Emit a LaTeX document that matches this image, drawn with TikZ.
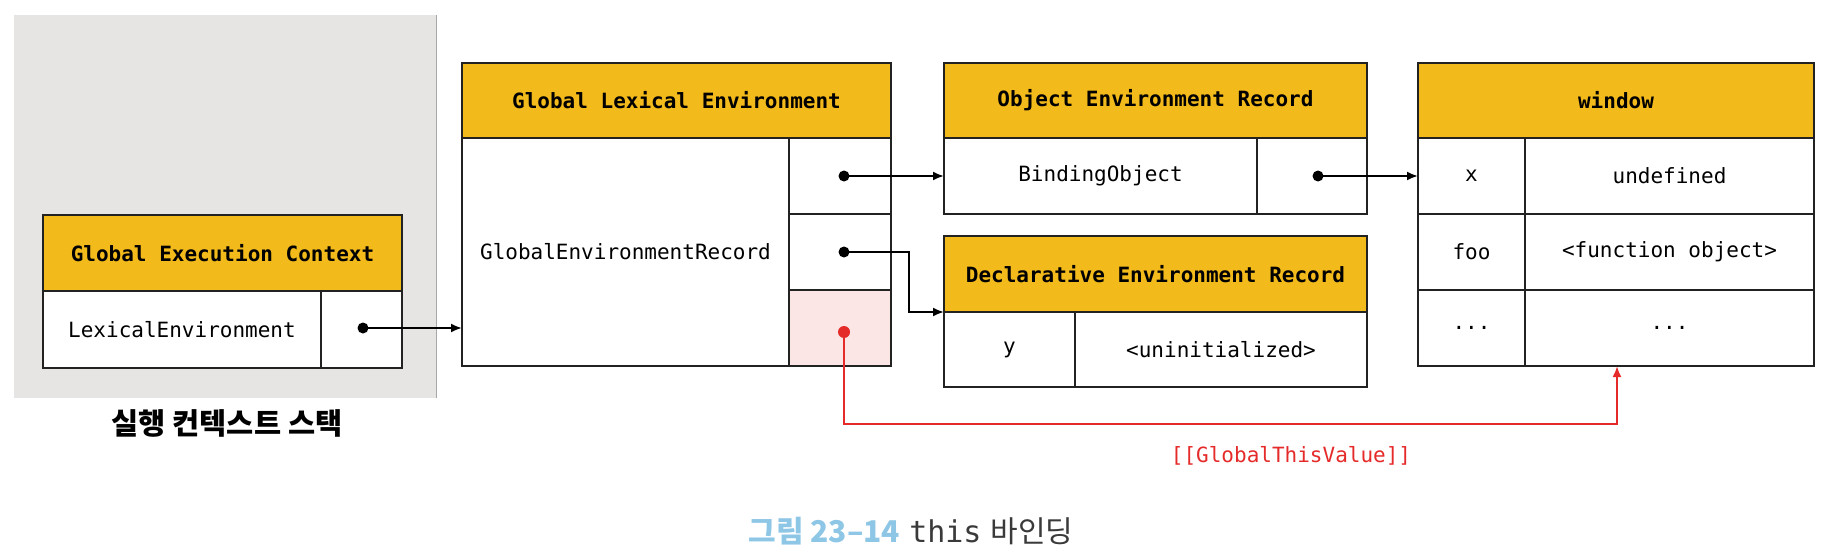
\documentclass[tikz,border=0pt]{standalone}
\usepackage{fontspec}
\setmonofont{DejaVu Sans Mono}
\newfontfamily\kr{Noto Sans CJK KR}
\usetikzlibrary{arrows.meta}
\definecolor{hdrc}{HTML}{F3BA1B}
\definecolor{linec}{HTML}{222222}
\definecolor{pinkc}{HTML}{FCE6E5}
\definecolor{bgc}{HTML}{E6E5E3}
\definecolor{bgedge}{HTML}{A8A8A8}
\definecolor{redc}{HTML}{E52A2A}
\definecolor{capblue}{HTML}{8EC6E6}
\definecolor{capgray}{HTML}{3A3A3A}
\begin{document}
\begin{tikzpicture}[x=1pt,y=-1pt,
  box/.style={draw=linec, line width=1.8pt, inner sep=0pt, outer sep=0pt, anchor=north west, align=center},
  hdr/.style={box, fill=hdrc, font=\ttfamily\bfseries\fontsize{21}{25}\selectfont},
  cell/.style={box, fill=white, font=\ttfamily\fontsize{21}{25}\selectfont},
  dot/.style={circle, fill=black, inner sep=0pt, minimum size=11pt},
  rdot/.style={circle, fill=redc, inner sep=0pt, minimum size=12pt},
  link/.style={draw=black, line width=2pt, -{Latex[length=11pt,width=9pt]}},
  rlink/.style={draw=redc, line width=2pt, -{Latex[length=11pt,width=9pt]}},
]
\useasboundingbox (0,0) rectangle (1830,559);
% execution context stack background
\node[fill=bgc, inner sep=0pt, anchor=north west, minimum width=422pt, minimum height=383pt] (stack) at (14,15) {};
\draw[bgedge, line width=1pt] (stack.north east) -- (stack.south east);
\node[font=\kr\bfseries\fontsize{29.5}{33}\selectfont] (stacklbl) at (227,423) {실행 컨텍스트 스택};

% Global Execution Context
\node[hdr, minimum width=359pt, minimum height=76pt] (gech) at (43,215) {Global Execution Context};
\node[cell, minimum width=278pt, minimum height=77pt] (gecl) at (43,291) {LexicalEnvironment};
\node[cell, minimum width=81pt, minimum height=77pt] (gecr) at (321,291) {};

% Global Lexical Environment
\node[hdr, minimum width=429pt, minimum height=75pt] (gleh) at (462,63) {Global Lexical Environment};
\node[cell, minimum width=327pt, minimum height=228pt] (glel) at (462,138) {GlobalEnvironmentRecord};
\node[cell, minimum width=102pt, minimum height=76pt] (gle1) at (789,138) {};
\node[cell, minimum width=102pt, minimum height=76pt] (gle2) at (789,214) {};
\node[cell, fill=pinkc, minimum width=102pt, minimum height=76pt] (gle3) at (789,290) {};

% Object Environment Record
\node[hdr, minimum width=423pt, minimum height=75pt] (oerh) at (944,63) {Object Environment Record};
\node[cell, minimum width=313pt, minimum height=76pt] (oerl) at (944,138) {BindingObject};
\node[cell, minimum width=110pt, minimum height=76pt] (oerr) at (1257,138) {};

% Declarative Environment Record
\node[hdr, minimum width=423pt, minimum height=76pt] (derh) at (944,236) {Declarative Environment Record};
\node[cell, minimum width=131pt, minimum height=75pt] (derl) at (944,312) {y};
\node[cell, minimum width=292pt, minimum height=75pt] (derr) at (1075,312) {<uninitialized>};

% window
\node[hdr, minimum width=396pt, minimum height=75pt] (winh) at (1418,63) {window};
\node[cell, minimum width=107pt, minimum height=76pt] (wx) at (1418,138) {x};
\node[cell, minimum width=289pt, minimum height=76pt] (wxv) at (1525,138) {undefined};
\node[cell, minimum width=107pt, minimum height=76pt] (wf) at (1418,214) {foo};
\node[cell, minimum width=289pt, minimum height=76pt] (wfv) at (1525,214) {<function object>};
\node[cell, minimum width=107pt, minimum height=76pt] (wd) at (1418,290) {...};
\node[cell, minimum width=289pt, minimum height=76pt] (wdv) at (1525,290) {...};

% dots
\node[dot] (d0) at (363,328) {};
\node[dot] (d1) at (844,176) {};
\node[dot] (d2) at (844,252) {};
\node[rdot] (d3) at (844,332) {};
\node[dot] (d4) at (1318,176) {};

% connectors
\coordinate (bend) at (909,252);
\coordinate (rturn) at (1617,424);
\draw[link] (d0.center) -- (d0.center -| glel.west);
\draw[link] (d1.center) -- (d1.center -| oerl.west);
\draw[link] (d2.center) -- (bend) |- (derh.south west);
\draw[link] (d4.center) -- (d4.center -| wx.west);
\draw[rlink] (d3.center) |- (rturn) -- (rturn |- wd.south);

\node[text=redc, font=\ttfamily\fontsize{21}{25}\selectfont] (gtv) at (1291,456) {[[GlobalThisValue]]};

% caption
\node[font=\fontsize{30}{34}\selectfont] (cap) at (911,531) {{\kr\bfseries\color{capblue}그림 23–14} {\color{capgray}\ttfamily this} {\color{capgray}\kr 바인딩}};
\end{tikzpicture}
\end{document}
